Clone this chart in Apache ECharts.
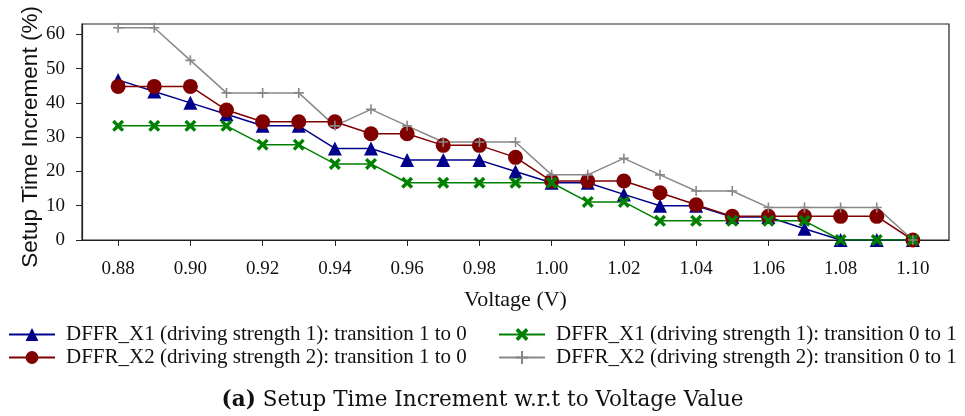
<!DOCTYPE html>
<html>
<head>
<meta charset="utf-8">
<script src="https://cdn.jsdelivr.net/npm/echarts@6/dist/echarts.min.js"></script>
<style>html,body{margin:0;padding:0;background:#fff}#c{width:965px;height:416px}</style>
</head>
<body>
<div id="c"></div>
<script>
const voltages = [0.88,0.89,0.90,0.91,0.92,0.93,0.94,0.95,0.96,0.97,0.98,0.99,1.00,1.01,1.02,1.03,1.04,1.05,1.06,1.07,1.08,1.09,1.10];
const x1Fall = [46.7,43.3,40.0,36.7,33.3,33.3,26.7,26.7,23.3,23.3,23.3,20.0,16.7,16.7,13.3,10.0,10.0,6.7,6.7,3.3,0,0,0];
const x2Fall = [44.8,44.8,44.8,37.9,34.5,34.5,34.5,31.0,31.0,27.6,27.6,24.1,17.2,17.2,17.2,13.8,10.3,6.9,6.9,6.9,6.9,6.9,0];
const x1Rise = [33.3,33.3,33.3,33.3,27.8,27.8,22.2,22.2,16.7,16.7,16.7,16.7,16.7,11.1,11.1,5.6,5.6,5.6,5.6,5.6,0,0,0];
const x2Rise = [61.9,61.9,52.4,42.9,42.9,42.9,33.3,38.1,33.3,28.6,28.6,28.6,19.0,19.0,23.8,19.0,14.3,14.3,9.5,9.5,9.5,9.5,0];
const xTicks = [0.88,0.90,0.92,0.94,0.96,0.98,1.00,1.02,1.04,1.06,1.08,1.10];
const yTicks = [0,10,20,30,40,50,60];
const names = [
  'DFFR_X1 (driving strength 1): transition 1 to 0',
  'DFFR_X2 (driving strength 2): transition 1 to 0',
  'DFFR_X1 (driving strength 1): transition 0 to 1',
  'DFFR_X2 (driving strength 2): transition 0 to 1'
];
const yTitle = 'Setup Time Increment (%)';
const xTitle = 'Voltage (V)';
const caption = 'Setup Time Increment w.r.t to Voltage Value';

const pair = arr => voltages.map((v,i)=>[v,arr[i]]);
const serif = '"Liberation Serif", "Times New Roman", serif';
const capSerif = '"DejaVu Serif", serif';
const crossPath = 'path://M0,2 L2,0 L5,3 L8,0 L10,2 L7,5 L10,8 L8,10 L5,7 L2,10 L0,8 L3,5 Z';
const plusPath = 'path://M4.2,0 H5.8 V4.2 H10 V5.8 H5.8 V10 H4.2 V5.8 H0 V4.2 H4.2 Z';

function mk(name, data, color, symbol, size) {
  return {
    name, type: 'line', data: pair(data), symbol, symbolSize: size,
    lineStyle: {color, width: 1.5}, itemStyle: {color},
    emphasis: {disabled: true}, animation: false
  };
}

const chart = echarts.init(document.getElementById('c'));
chart.setOption({
  animation: false,
  grid: {left: 82, right: 16, top: 24, bottom: 176, show: true, borderColor: '#222', borderWidth: 1.2, containLabel: false},
  xAxis: {
    type: 'value', min: 0.87, max: 1.11,
    name: xTitle, nameLocation: 'middle', nameGap: 49,
    nameTextStyle: {fontFamily: serif, fontSize: 22, color: '#111'},
    axisLine: {show: true, onZero: false, lineStyle: {color: '#222', width: 1.2}},
    axisTick: {show: true, length: 6, customValues: xTicks, lineStyle: {color: '#222'}},
    axisLabel: {customValues: xTicks, margin: 20, fontFamily: serif, fontSize: 19, color: '#111', formatter: v => v.toFixed(2)},
    splitLine: {show: false}
  },
  yAxis: {
    type: 'value', min: 0, max: 63,
    axisLine: {show: true, lineStyle: {color: '#222', width: 1.2}},
    axisTick: {show: true, length: 6, customValues: yTicks, lineStyle: {color: '#222'}},
    axisLabel: {customValues: yTicks, margin: 17, fontFamily: serif, fontSize: 19, color: '#111'},
    splitLine: {show: false}
  },
  graphic: [{
    type: 'text', x: 31, y: 137, rotation: Math.PI / 2,
    style: {text: yTitle, font: '22.5px "Liberation Sans", Arial, sans-serif', fill: '#111', align: 'center', verticalAlign: 'middle'}
  }],
  legend: [
    {data: [names[0], names[1]], orient: 'vertical', left: 3, top: 319, itemWidth: 46, itemHeight: 16, itemGap: 2,
     textStyle: {fontFamily: serif, fontSize: 21, color: '#111', padding: [0,0,0,6]}},
    {data: [names[2], names[3]], orient: 'vertical', left: 493, top: 319, itemWidth: 46, itemHeight: 16, itemGap: 2,
     textStyle: {fontFamily: serif, fontSize: 21, color: '#111', padding: [0,0,0,6]}}
  ],
  title: {
    text: '{b|(a)} ' + caption,
    left: 'center', top: 384,
    textStyle: {fontFamily: capSerif, fontSize: 21.5, fontWeight: 'normal', color: '#111',
      rich: {b: {fontFamily: capSerif, fontSize: 21.5, fontWeight: 'bold', color: '#111'}}}
  },
  series: [
    mk(names[0], x1Fall, '#00008b', 'triangle', 14),
    mk(names[1], x2Fall, '#800000', 'circle', 15),
    mk(names[2], x1Rise, '#008000', crossPath, 12),
    mk(names[3], x2Rise, '#888888', plusPath, 10)
  ]
});
</script>
</body>
</html>
